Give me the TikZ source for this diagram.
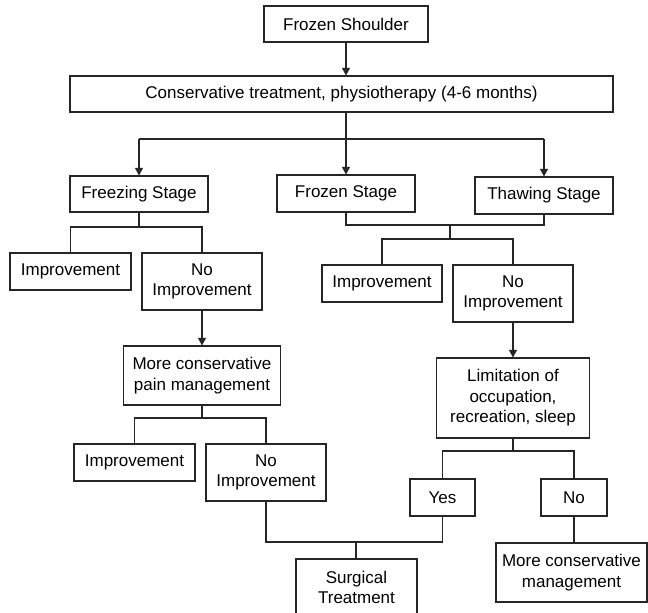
\documentclass[tikz,border=0pt]{standalone}
\usepackage{fontspec}
\setmainfont{Liberation Sans}
\usetikzlibrary{arrows.meta}
\tikzset{
  box/.style={draw=black!85, line width=1.1pt, inner sep=0pt, align=center,
    font=\fontsize{17}{20.5}\selectfont, text=black},
  link/.style={draw=black!85, line width=1.1pt},
  arr/.style={link, -{Triangle[length=7.5pt,width=8pt]}}
}
\begin{document}
\begin{tikzpicture}[x=1pt,y=-1pt]
\useasboundingbox (0,0) rectangle (648,613);
% nodes
\node[box, minimum width=164, minimum height=36] (fs) at (346,24) {Frozen Shoulder};
\node[box, minimum width=543, minimum height=36] (cons) at (341.5,94) {Conservative treatment, physiotherapy (4-6 months)};
\node[box, minimum width=138, minimum height=36] (freezing) at (139,194) {Freezing Stage};
\node[box, minimum width=138, minimum height=37] (frozen) at (346,193.5) {Frozen Stage};
\node[box, minimum width=138, minimum height=37] (thawing) at (544,195.5) {Thawing Stage};
\node[box, minimum width=121, minimum height=37] (implA) at (70.5,271.5) {Improvement};
\node[box, minimum width=120, minimum height=57] (noimpA) at (202,281.5) {No\\Improvement};
\node[box, minimum width=157, minimum height=59] (pain) at (202,375.5) {More conservative\\pain management};
\node[box, minimum width=121, minimum height=37] (implC) at (134.5,462.5) {Improvement};
\node[box, minimum width=120, minimum height=57] (noimpC) at (266,472.5) {No\\Improvement};
\node[box, minimum width=120, minimum height=37] (implB) at (382,283.5) {Improvement};
\node[box, minimum width=120, minimum height=57] (noimpB) at (513,293.5) {No\\Improvement};
\node[box, minimum width=153, minimum height=80] (limit) at (513,398) {Limitation of\\occupation,\\recreation, sleep};
\node[box, minimum width=65, minimum height=37] (yes) at (442.5,497.5) {Yes};
\node[box, minimum width=66, minimum height=37] (no) at (574,497.5) {No};
\node[box, minimum width=151, minimum height=59] (mcm) at (571.5,572.5) {More conservative\\management};
\node[box, minimum width=121, minimum height=57] (surg) at (356.5,587.5) {Surgical\\Treatment};
% junction coordinates
\coordinate (j1) at (346,139);
\coordinate (j2) at (139,227);
\coordinate (j3) at (202,418);
\coordinate (j4) at (346,225);
\coordinate (j5) at (450,225);
\coordinate (j6) at (450,239);
\coordinate (j7) at (513,451);
\coordinate (j8) at (356,542);
% connectors
\draw[arr] (fs.south) -- (cons.north -| fs.south);
\draw[link] (cons.south -| j1) -- (j1);
\draw[link] (j1 -| freezing.north) -- (j1 -| thawing.north);
\draw[arr] (j1 -| freezing.north) -- (freezing.north);
\draw[arr] (j1) -- (frozen.north);
\draw[arr] (j1 -| thawing.north) -- (thawing.north);
% freezing branch
\draw[link] (freezing.south) -- (j2);
\draw[link] (implA.north) -- (implA.north |- j2) -- (noimpA.north |- j2) -- (noimpA.north);
\draw[arr] (noimpA.south) -- (pain.north);
\draw[link] (pain.south) -- (j3);
\draw[link] (implC.north) -- (implC.north |- j3) -- (noimpC.north |- j3) -- (noimpC.north);
% frozen / thawing branch
\draw[link] (frozen.south) -- (j4) -- (thawing.south |- j4) -- (thawing.south);
\draw[link] (j5) -- (j6);
\draw[link] (implB.north) -- (implB.north |- j6) -- (noimpB.north |- j6) -- (noimpB.north);
\draw[arr] (noimpB.south) -- (limit.north);
\draw[link] (limit.south) -- (j7);
\draw[link] (yes.north) -- (yes.north |- j7) -- (no.north |- j7) -- (no.north);
\draw[link] (no.south) -- (mcm.north -| no.south);
% to surgical treatment
\draw[link] (noimpC.south) -- (noimpC.south |- j8) -- (yes.south |- j8) -- (yes.south);
\draw[link] (j8) -- (surg.north -| j8);
\end{tikzpicture}
\end{document}
